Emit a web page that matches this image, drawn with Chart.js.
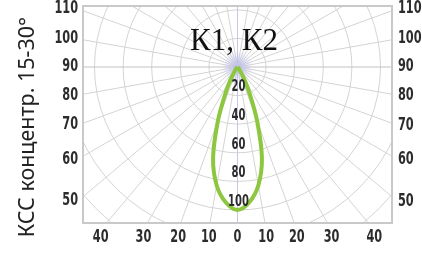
<!DOCTYPE html>
<html>
<head>
<meta charset="utf-8">
<script src="https://cdn.jsdelivr.net/npm/chart.js@4.4.1/dist/chart.umd.min.js"></script>
<style>
html, body { margin: 0; padding: 0; background: #fff; }
#wrap { width: 422px; height: 255px; }
</style>
</head>
<body>
<div id="wrap"><canvas id="ksc" width="422" height="255"></canvas></div>
<script>
const titleText = "К1, К2";
const axisTitle = "КСС концентр. 15-30°";

// angle from nadir (deg) and luminous intensity
const angles = [-40, -35, -30, -25, -20, -15, -10, -5, 0, 5, 10, 15, 20, 25, 30, 35, 40];
const intensity = [0, 2, 8, 19, 40, 66, 84, 95, 100, 95, 84, 66, 40, 19, 8, 2, 0];

const rings = [20, 40, 60, 80, 100, 120, 140, 160];
const ringLabels = [20, 40, 60, 80, 100];
const rays = [0, 10, 20, 30, 40, 50, 60, 70, 80, 90, 100, 110, 120, 130, 140, 150, 160, 170,
    180, 190, 200, 210, 220, 230, 240, 250, 260, 270, 280, 290, 300, 310, 320, 330, 340, 350];
const sideLabels = [110, 100, 90, 80, 70, 60, 50];
const bottomAngles = [-40, -30, -20, -10, 0, 10, 20, 30, 40];
const bottomLabels = ["40", "30", "20", "10", "0", "10", "20", "30", "40"];

// layout of the box (pixels) and scale
const box = { left: 83, right: 392, top: 6, bottom: 223 };
const center = { x: 237.5, y: 67 };
const unitPx = 1.43;

const numFont = "bold 17px 'DejaVu Sans Condensed', 'Liberation Sans Narrow', sans-serif";
const ringFont = "bold 15px 'DejaVu Sans Condensed', 'Liberation Sans Narrow', sans-serif";
const squeeze = 0.74;

function rad(d) {
    return d * Math.PI / 180;
}

// condensed digits: draw the text squeezed horizontally
function narrowText(ctx, text, x, y, align) {
    ctx.save();
    ctx.translate(x, y);
    ctx.scale(squeeze, 1);
    ctx.textAlign = align;
    ctx.fillText(text, 0, 0);
    ctx.restore();
}

const points = angles.map((a, i) => ({
    x: intensity[i] * Math.sin(rad(a)),
    y: -intensity[i] * Math.cos(rad(a))
}));

const polarGrid = {
    id: "polarGrid",
    beforeDatasetsDraw(chart) {
        const { ctx, chartArea: a, scales } = chart;
        const cx = scales.x.getPixelForValue(0);
        const cy = scales.y.getPixelForValue(0);
        const k = scales.x.getPixelForValue(1) - cx;

        ctx.save();
        ctx.beginPath();
        ctx.rect(a.left, a.top, a.right - a.left, a.bottom - a.top);
        ctx.clip();
        ctx.lineWidth = 1;
        ctx.strokeStyle = "#d4d4d4";
        rings.forEach((r) => {
            ctx.beginPath();
            ctx.arc(cx, cy, r * k, 0, Math.PI * 2);
            ctx.stroke();
        });
        rays.forEach((d) => {
            ctx.beginPath();
            ctx.moveTo(cx, cy);
            ctx.lineTo(cx + Math.sin(rad(d)) * 400, cy + Math.cos(rad(d)) * 400);
            if (d % 180 === 0) ctx.strokeStyle = "#c6c6ea";
            else if (d === 90 || d === 270) ctx.strokeStyle = "#c2c2c2";
            else ctx.strokeStyle = "#d4d4d4";
            ctx.stroke();
        });
        const glow = ctx.createRadialGradient(cx, cy, 0, cx, cy, 16);
        glow.addColorStop(0, "rgba(185,185,240,0.75)");
        glow.addColorStop(1, "rgba(185,185,240,0)");
        ctx.fillStyle = glow;
        ctx.fillRect(cx - 16, cy - 16, 32, 32);
        ctx.restore();

        ctx.save();
        ctx.strokeStyle = "#c9c9c9";
        ctx.lineWidth = 2;
        ctx.strokeRect(a.left, a.top, a.right - a.left, a.bottom - a.top);
        ctx.restore();
    },
    afterDatasetsDraw(chart) {
        const { ctx, chartArea: a, scales } = chart;
        const cx = scales.x.getPixelForValue(0);
        const cy = scales.y.getPixelForValue(0);
        const k = scales.x.getPixelForValue(1) - cx;

        ctx.save();
        ctx.fillStyle = "#2c2c2c";
        ctx.textBaseline = "middle";

        // ring values along the nadir
        ctx.font = ringFont;
        ringLabels.forEach((r) => {
            narrowText(ctx, String(r), cx + 1, cy + r * k - 8, "center");
        });

        // angles on both sides
        ctx.font = numFont;
        const leftX = a.left - 5;
        const rightX = a.right + 6;
        sideLabels.forEach((d) => {
            const yl = cy + (cx - leftX) / Math.tan(rad(d));
            const yr = cy + (rightX - cx) / Math.tan(rad(d));
            narrowText(ctx, String(d), leftX, yl, "right");
            narrowText(ctx, String(d), rightX, yr, "left");
        });

        // angles under the box
        const labelTop = a.bottom + 7;
        bottomAngles.forEach((d, i) => {
            const x = cx + (labelTop - cy) * Math.tan(rad(d));
            narrowText(ctx, bottomLabels[i], x, a.bottom + 15, "center");
        });

        // title inside the box
        ctx.fillStyle = "#111";
        ctx.font = "31px 'Liberation Serif', serif";
        ctx.textAlign = "center";
        ctx.textBaseline = "alphabetic";
        ctx.fillText(titleText, 234, 50);

        // vertical caption on the left
        ctx.fillStyle = "#222";
        ctx.font = "21.5px 'Noto Sans', sans-serif";
        ctx.translate(34, 127);
        ctx.rotate(-Math.PI / 2);
        ctx.fillText(axisTitle, 0, 0);
        ctx.restore();
    }
};

new Chart(document.getElementById("ksc").getContext("2d"), {
    type: "scatter",
    data: {
        datasets: [{
            data: points,
            showLine: true,
            borderColor: "#8dc63f",
            borderWidth: 4,
            pointRadius: 0,
            tension: 0.35,
            fill: false
        }]
    },
    options: {
        responsive: false,
        animation: false,
        layout: {
            padding: { left: box.left, right: 422 - box.right, top: box.top, bottom: 255 - box.bottom }
        },
        plugins: {
            legend: { display: false },
            tooltip: { enabled: false }
        },
        scales: {
            x: {
                type: "linear", display: false,
                min: -(center.x - box.left) / unitPx,
                max: (box.right - center.x) / unitPx
            },
            y: {
                type: "linear", display: false,
                min: -(box.bottom - center.y) / unitPx,
                max: (center.y - box.top) / unitPx
            }
        }
    },
    plugins: [polarGrid]
});
</script>
</body>
</html>
